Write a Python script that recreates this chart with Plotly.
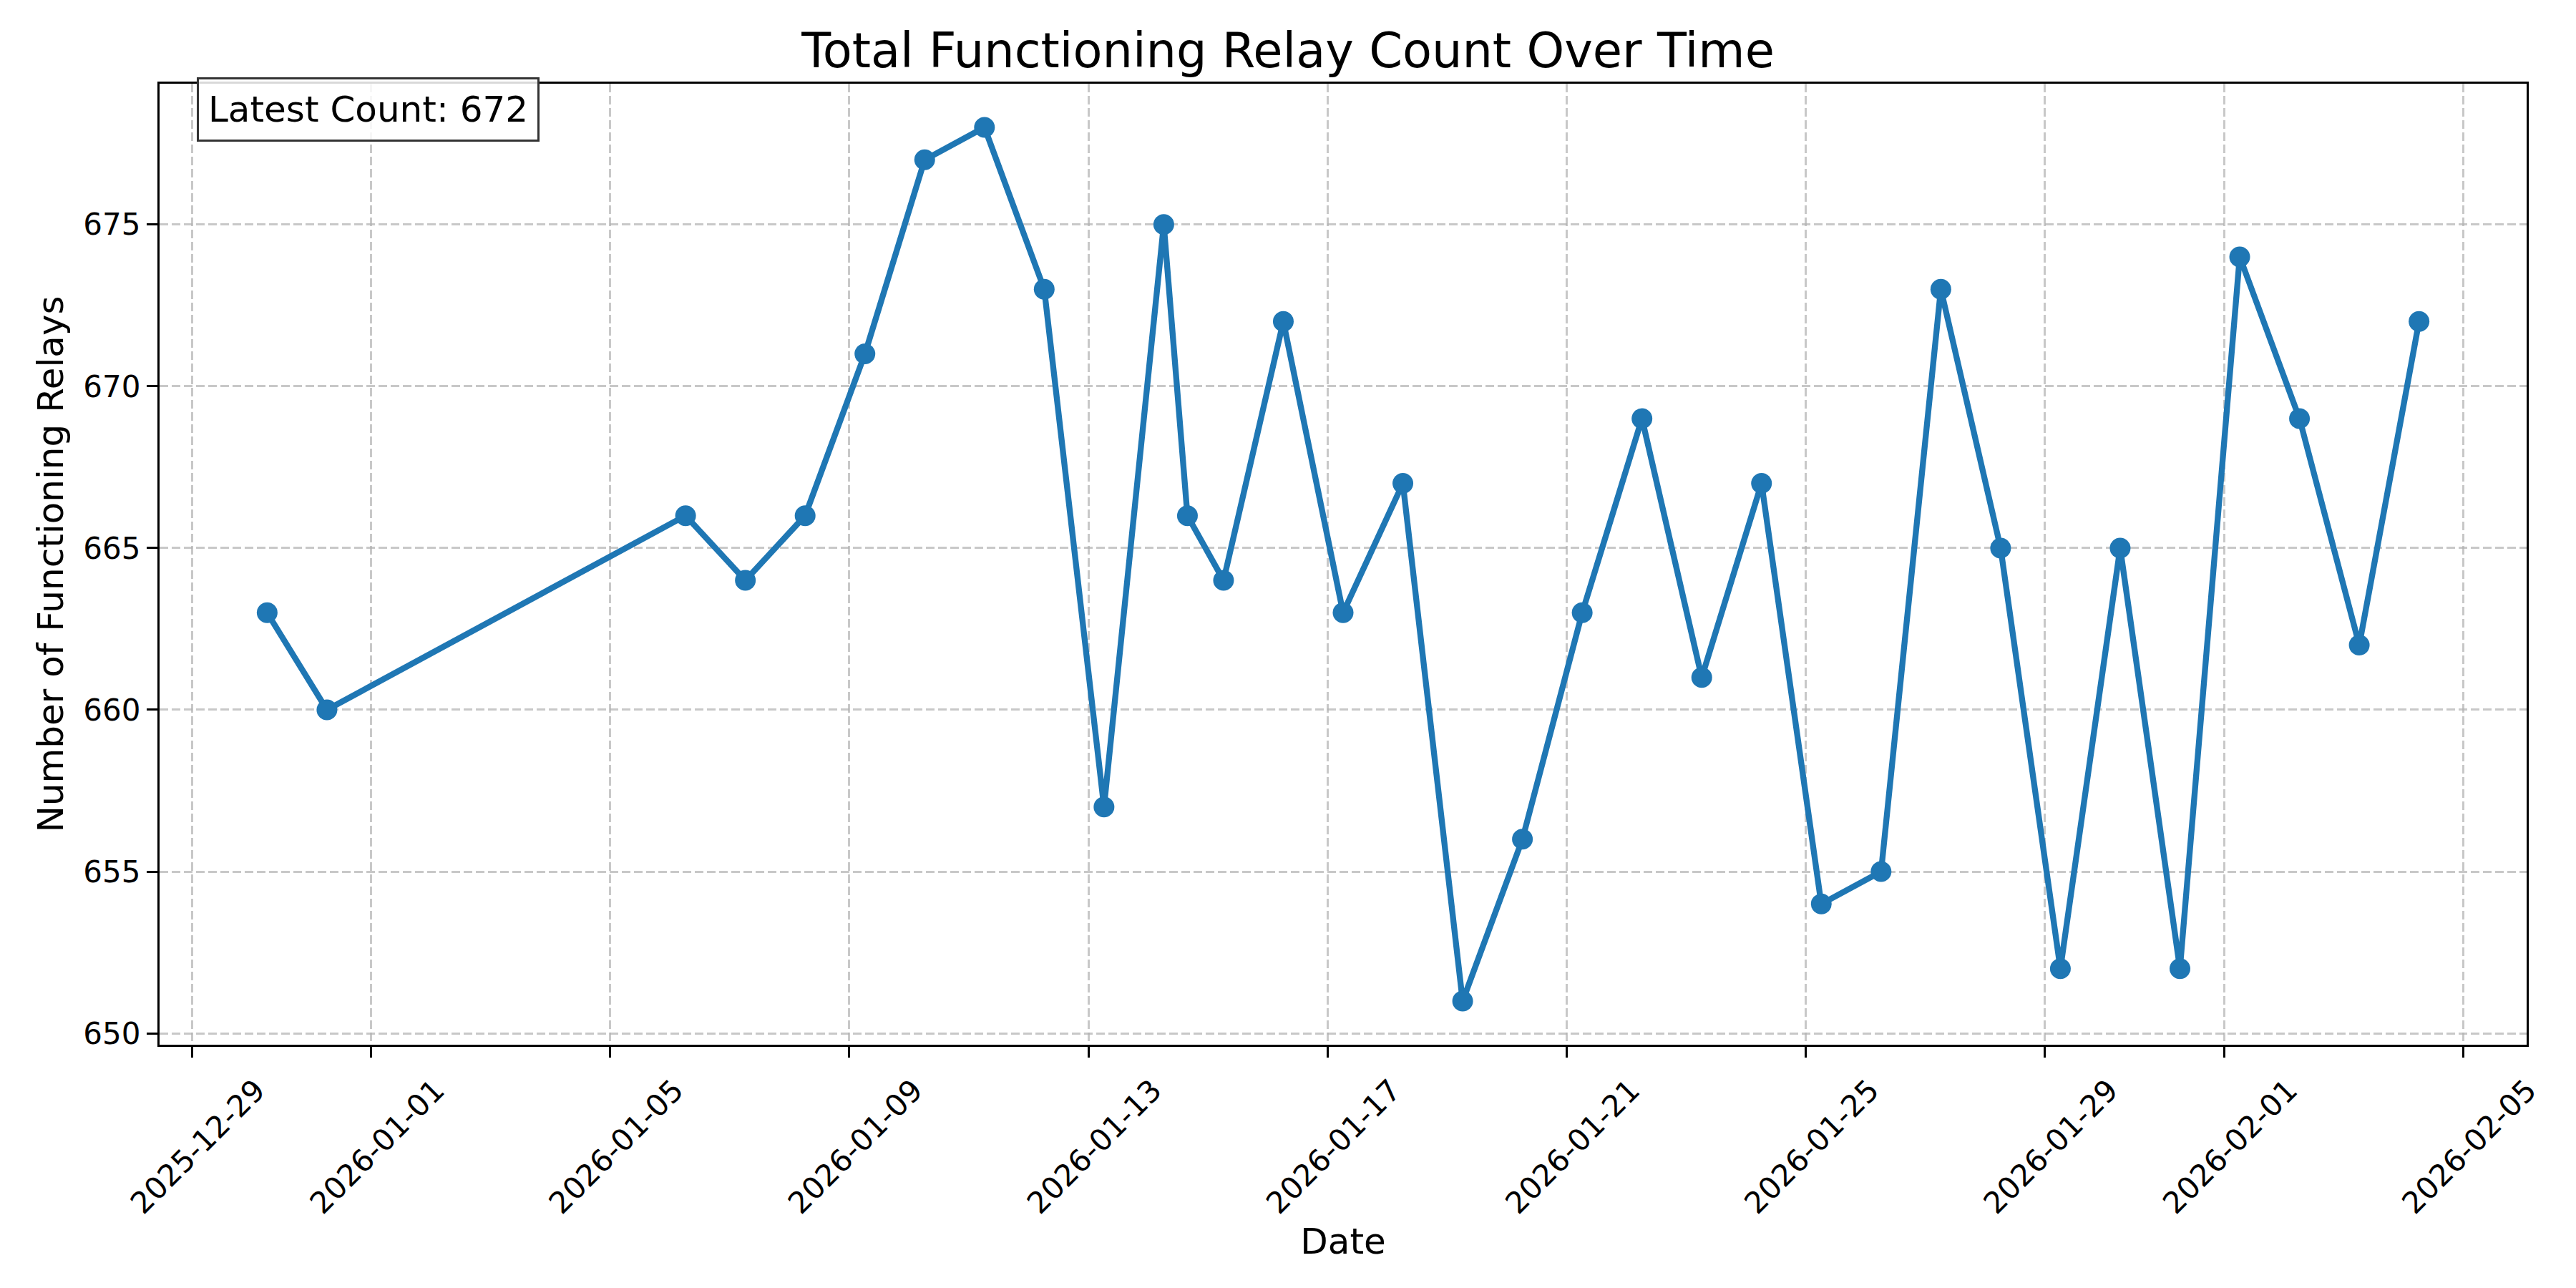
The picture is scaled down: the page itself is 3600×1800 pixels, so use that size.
import pandas as pd
import plotly.graph_objects as go

# ---- data ----
timestamps = [
    "2025-12-30 06:15", "2025-12-31 06:15", "2026-01-06 06:15", "2026-01-07 06:15",
    "2026-01-08 06:15", "2026-01-09 06:15", "2026-01-10 06:15", "2026-01-11 06:15",
    "2026-01-12 06:15", "2026-01-13 06:15", "2026-01-14 06:15", "2026-01-14 15:45",
    "2026-01-15 06:15", "2026-01-16 06:15", "2026-01-17 06:15", "2026-01-18 06:15",
    "2026-01-19 06:15", "2026-01-20 06:15", "2026-01-21 06:15", "2026-01-22 06:15",
    "2026-01-23 06:15", "2026-01-24 06:15", "2026-01-25 06:15", "2026-01-26 06:15",
    "2026-01-27 06:15", "2026-01-28 06:15", "2026-01-29 06:15", "2026-01-30 06:15",
    "2026-01-31 06:15", "2026-02-01 06:15", "2026-02-02 06:15", "2026-02-03 06:15",
    "2026-02-04 06:15",
]
relay_counts = [
    663, 660, 666, 664, 666, 671, 677, 678, 673, 657, 675, 666, 664, 672, 663, 667,
    651, 656, 663, 669, 661, 667, 654, 655, 673, 665, 652, 665, 652, 674, 669, 662, 672,
]
x_tick_labels = [
    "2025-12-29", "2026-01-01", "2026-01-05", "2026-01-09", "2026-01-13", "2026-01-17",
    "2026-01-21", "2026-01-25", "2026-01-29", "2026-02-01", "2026-02-05",
]
y_tick_values = [650, 655, 660, 665, 670, 675]

title_text = "Total Functioning Relay Count Over Time"
x_title = "Date"
y_title = "Number of Functioning Relays"

# ---- figure ----
t = pd.to_datetime(timestamps)
span = t.max() - t.min()
x_range = [t.min() - 0.05 * span, t.max() + 0.05 * span]
ymin, ymax = min(relay_counts), max(relay_counts)
ypad = 0.05 * (ymax - ymin)
y_range = [ymin - ypad, ymax + ypad]

FONT = "DejaVu Sans"
BLUE = "#1f77b4"
GRID = "rgba(176,176,176,0.7)"

fig = go.Figure()
fig.add_trace(go.Scatter(
    x=t, y=relay_counts, mode="lines+markers",
    line=dict(color=BLUE, width=8.3),
    marker=dict(color=BLUE, size=29, line=dict(width=0)),
    showlegend=False,
))

tick_dt = pd.to_datetime(x_tick_labels)

fig.update_layout(
    width=3600, height=1800,
    paper_bgcolor="white", plot_bgcolor="white",
    margin=dict(l=223, r=69, t=117, b=340),
    font=dict(family=FONT, color="black", size=42),
    title=dict(text=title_text, x=0.5, xanchor="center", y=1 - 71 / 1800, yanchor="middle",
               font=dict(size=67, family=FONT, color="black")),
    annotations=[dict(
        text="Latest Count: " + str(relay_counts[-1]),
        xref="paper", yref="paper", x=0.0157, y=1.007, xanchor="left", yanchor="top",
        showarrow=False, font=dict(size=50, family=FONT, color="black"),
        bgcolor="rgba(255,255,255,0.85)", bordercolor="#333333", borderwidth=3, borderpad=13,
    )],
)

fig.update_xaxes(
    range=x_range, tickmode="array", tickvals=tick_dt, ticktext=x_tick_labels,
    tickangle=-45, ticklabelshift=90, ticklabelstandoff=4,
    ticks="outside", ticklen=15, tickwidth=3.3, tickcolor="black",
    tickfont=dict(size=42, family=FONT, color="black"),
    showline=True, linecolor="black", linewidth=3.3, mirror=True,
    showgrid=True, gridcolor=GRID, gridwidth=3.3, griddash="12px,5px",
    zeroline=False,
    title=dict(text=x_title, font=dict(size=50, family=FONT, color="black"), standoff=0),
)
fig.update_yaxes(
    range=y_range, tickmode="array", tickvals=y_tick_values,
    ticks="outside", ticklen=15, tickwidth=3.3, tickcolor="black",
    tickfont=dict(size=42, family=FONT, color="black"),
    showline=True, linecolor="black", linewidth=3.3, mirror=True,
    showgrid=True, gridcolor=GRID, gridwidth=3.3, griddash="12px,5px",
    zeroline=False,
    title=dict(text=y_title, font=dict(size=50, family=FONT, color="black"), standoff=12),
)

fig.write_html("out.html")
